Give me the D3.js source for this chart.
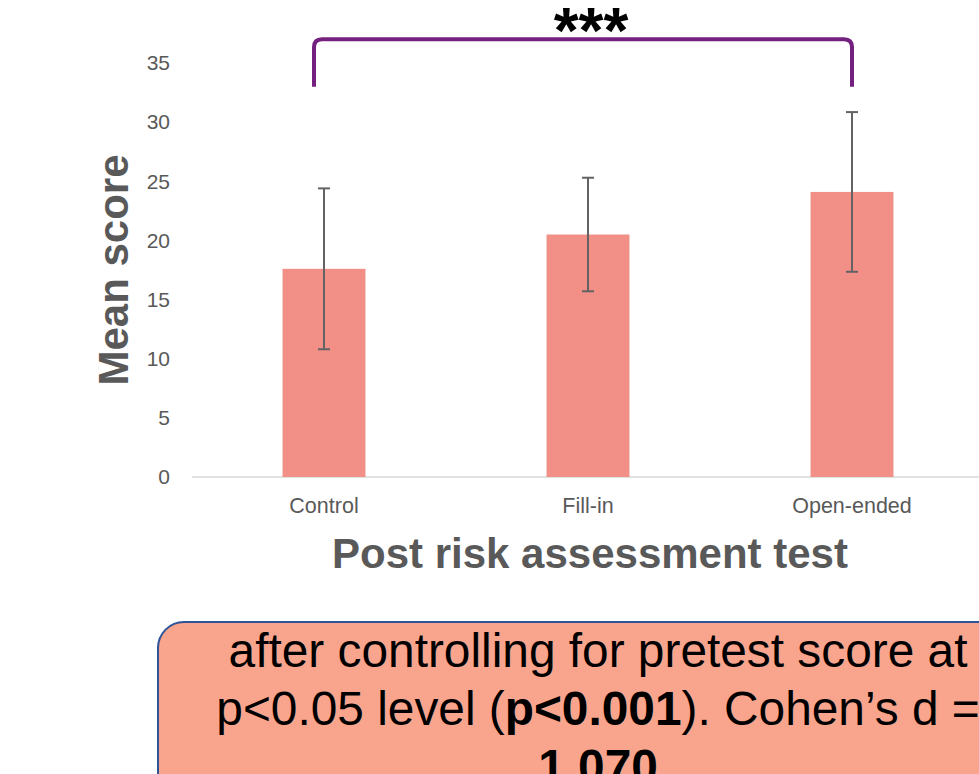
<!DOCTYPE html>
<html>
<head>
<meta charset="utf-8">
<script src="https://cdn.jsdelivr.net/npm/d3@7"></script>
<style>
  html, body { margin: 0; padding: 0; background: #fff; overflow: hidden; }
  svg { display: block; }
</style>
</head>
<body>
<svg id="chart" width="979" height="774"></svg>
<script>
const categories = ["Control", "Fill-in", "Open-ended"];
const means = [17.6, 20.5, 24.1];
const errors = [6.8, 4.8, 6.75];
const yTicks = [0, 5, 10, 15, 20, 25, 30, 35];
const yTitle = "Mean score";
const xTitle = "Post risk assessment test";
const sigLabel = "***";
const noteLines = [
  [{t: "after controlling for pretest score at", b: false}],
  [{t: "p<0.05 level (", b: false}, {t: "p<0.001", b: true}, {t: "). Cohen\u2019s d =", b: false}],
  [{t: "1.070", b: true}]
];

const svg = d3.select("#chart");
const font = "'Liberation Sans', Arial, sans-serif";
const grey = "#595959";

const x = d3.scaleBand().domain(categories).range([192, 984]).paddingInner(0.686).paddingOuter(0.343);
const y = d3.scaleLinear().domain([0, 35]).range([477, 63]);

// baseline
svg.append("line").attr("x1", 192).attr("x2", 984).attr("y1", y(0)).attr("y2", y(0))
  .attr("stroke", "#d9d9d9").attr("stroke-width", 1.5);

// y axis
const yAxis = d3.axisLeft(y).tickValues(yTicks).tickSize(0).tickPadding(0);
const gy = svg.append("g").attr("transform", "translate(170,0)").call(yAxis);
gy.select(".domain").remove();
gy.selectAll("text").attr("font-family", font).attr("font-size", 21).attr("fill", grey);

// x axis labels
const xAxis = d3.axisBottom(x).tickSize(0).tickPadding(0);
const gx = svg.append("g").attr("transform", "translate(0,498)").call(xAxis);
gx.select(".domain").remove();
gx.selectAll("text").attr("font-family", font).attr("font-size", 21.5).attr("fill", grey).attr("dy", "0.71em");

// bars
const data = categories.map((c, i) => ({c, m: means[i], e: errors[i]}));
svg.append("g").selectAll("rect").data(data).join("rect")
  .attr("x", d => x(d.c)).attr("width", x.bandwidth())
  .attr("y", d => y(d.m)).attr("height", d => y(0) - y(d.m))
  .attr("fill", "#f28f87");

// error bars
const eb = svg.append("g").attr("stroke", "#636363").attr("stroke-width", 2);
data.forEach(d => {
  const cx = x(d.c) + x.bandwidth() / 2;
  eb.append("line").attr("x1", cx).attr("x2", cx).attr("y1", y(d.m + d.e)).attr("y2", y(d.m - d.e));
  eb.append("line").attr("x1", cx - 6).attr("x2", cx + 6).attr("y1", y(d.m + d.e)).attr("y2", y(d.m + d.e));
  eb.append("line").attr("x1", cx - 6).attr("x2", cx + 6).attr("y1", y(d.m - d.e)).attr("y2", y(d.m - d.e));
});

// titles
svg.append("text").attr("transform", "translate(128,270) rotate(-90)")
  .attr("text-anchor", "middle").attr("font-family", font).attr("font-weight", "bold")
  .attr("font-size", 42).attr("fill", grey).text(yTitle);
svg.append("text").attr("x", 590).attr("y", 568)
  .attr("text-anchor", "middle").attr("font-family", font).attr("font-weight", "bold")
  .attr("font-size", 42).attr("fill", grey).text(xTitle);

// significance bracket
const xl = x(categories[0]) + x.bandwidth() / 2 - 10;
const xr = x(categories[2]) + x.bandwidth() / 2;
const yb = y(33), yt = y(37);
svg.append("path")
  .attr("d", `M${xl},${yb} V${yt + 8} Q${xl},${yt} ${xl + 8},${yt} H${xr - 8} Q${xr},${yt} ${xr},${yt + 8} V${yb}`)
  .attr("fill", "none").attr("stroke", "#74207f").attr("stroke-width", 4);
svg.append("text").attr("x", 591).attr("y", 53)
  .attr("text-anchor", "middle").attr("font-family", font).attr("font-weight", "bold")
  .attr("font-size", 64).attr("fill", "#000").text(sigLabel);

// note box
svg.append("rect").attr("x", 158).attr("y", 622).attr("width", 860).attr("height", 200)
  .attr("rx", 26).attr("fill", "#f9a58e").attr("stroke", "#2f5496").attr("stroke-width", 2);
const cxNote = 598;
const gNote = svg.append("g");
const baselines = [667, 725, 783];
const texts = noteLines.map((line, i) => {
  const t = gNote.append("text").attr("x", 0).attr("y", baselines[i])
    .attr("text-anchor", "middle").attr("font-family", font).attr("font-size", 48).attr("fill", "#000");
  line.forEach(seg => t.append("tspan").attr("font-weight", seg.b ? "bold" : "normal").text(seg.t));
  return t;
});
const w1 = texts[0].node().getComputedTextLength();
const sx = 739 / w1;
gNote.attr("transform", `translate(${cxNote},0) scale(${sx},1)`);
</script>
</body>
</html>
